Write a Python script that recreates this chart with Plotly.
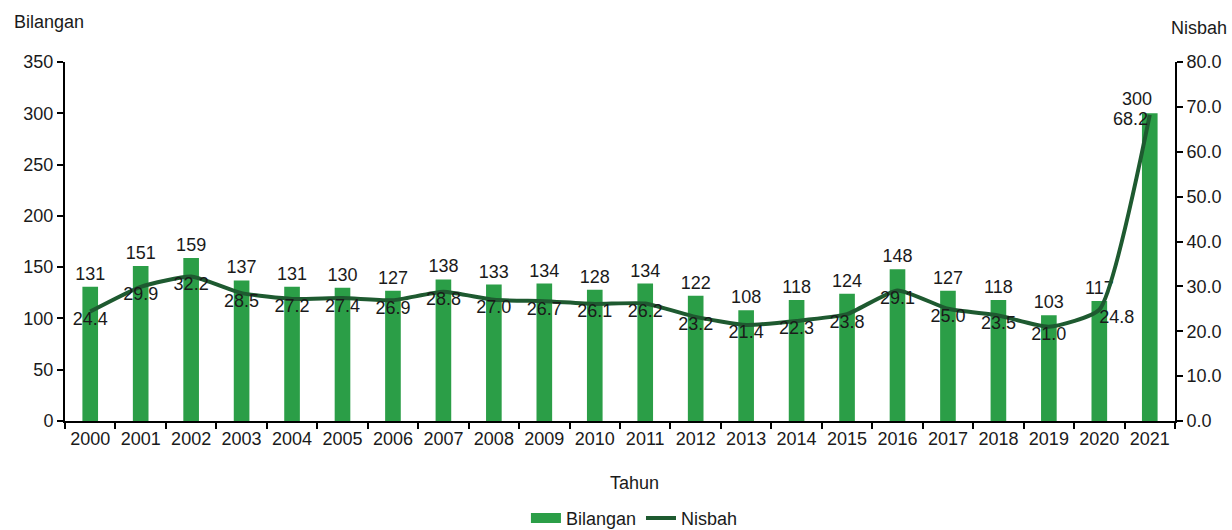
import plotly.graph_objects as go

# Annual data
tahun = [str(y) for y in range(2000, 2022)]
bilangan = [131, 151, 159, 137, 131, 130, 127, 138, 133, 134, 128, 134,
            122, 108, 118, 124, 148, 127, 118, 103, 117, 300]
nisbah = [24.4, 29.9, 32.2, 28.5, 27.2, 27.4, 26.9, 28.8, 27.0, 26.7, 26.1, 26.2,
          23.2, 21.4, 22.3, 23.8, 29.1, 25.0, 23.5, 21.0, 24.8, 68.2]

BAR_COLOR = "#2b9e47"
LINE_COLOR = "#1e5a30"
FONT = "Liberation Sans, Arial, sans-serif"
FS = 18
TXT = "#1a1a1a"

# Last point's labels are placed as annotations so they don't collide
bar_text = [str(v) for v in bilangan[:-1]] + [""]
line_text = [f"{v:.1f}" for v in nisbah[:-1]] + [""]
line_pos = ["bottom center"] * len(nisbah)
line_pos[-2] = "bottom right"
last = len(tahun) - 1  # category index of the final year

fig = go.Figure()
fig.add_trace(go.Bar(
    x=tahun, y=bilangan, name="Bilangan", showlegend=False,
    marker=dict(color=BAR_COLOR, line=dict(width=0)),
    width=0.31,
    text=bar_text, textposition="outside",
    constraintext="none",
    textfont=dict(family=FONT, size=FS, color=TXT),
    cliponaxis=False,
))
fig.add_trace(go.Scatter(
    x=tahun, y=nisbah, name="Nisbah", yaxis="y2", showlegend=False,
    mode="lines+text",
    line=dict(color=LINE_COLOR, width=4, shape="spline", smoothing=0.5),
    text=line_text, textposition=line_pos,
    textfont=dict(family=FONT, size=FS, color=TXT),
    cliponaxis=False,
))
# Legend entries: wide bar swatch and line
fig.add_trace(go.Scatter(
    x=[tahun[0]], y=[None], name="Bilangan", mode="lines",
    line=dict(color=BAR_COLOR, width=11),
))
fig.add_trace(go.Scatter(
    x=[tahun[0]], y=[None], name="Nisbah", mode="lines", yaxis="y2",
    line=dict(color=LINE_COLOR, width=4),
))

fig.update_layout(
    width=1232, height=530,
    margin=dict(l=65, r=57, t=62, b=109, autoexpand=False),
    paper_bgcolor="white", plot_bgcolor="white",
    font=dict(family=FONT, size=FS, color=TXT),
    bargap=0.69,
    showlegend=True,
    legend=dict(orientation="h", x=0.513, xanchor="center",
                yref="container", y=0.022, yanchor="middle",
                font=dict(family=FONT, size=FS), itemwidth=30, tracegroupgap=0,
                bgcolor="rgba(0,0,0,0)"),
    xaxis=dict(
        type="category", range=[-0.5, len(tahun) - 0.5],
        showline=True, linecolor="black", linewidth=2,
        ticks="outside", ticklen=6, tickcolor="black", tickwidth=2,
        tickson="boundaries", showgrid=False, tickangle=0, automargin=False,
        tickfont=dict(family=FONT, size=FS),
    ),
    yaxis=dict(
        range=[0, 350], dtick=50, showline=True, linecolor="black", linewidth=2,
        ticks="outside", ticklen=6, tickcolor="black", tickwidth=2,
        showgrid=False, zeroline=False, automargin=False,
        tickfont=dict(family=FONT, size=FS),
    ),
    yaxis2=dict(
        range=[0, 80], dtick=10, tickformat=".1f", overlaying="y", side="right",
        showline=True, linecolor="black", linewidth=2,
        ticks="outside", ticklen=6, tickcolor="black", tickwidth=2,
        showgrid=False, zeroline=False, automargin=False,
        tickfont=dict(family=FONT, size=FS),
    ),
    annotations=[
        dict(text="Bilangan", xref="paper", yref="paper", x=-0.048, y=1.0,
             xanchor="left", yanchor="middle", yshift=40, showarrow=False,
             font=dict(family=FONT, size=FS)),
        dict(text="Nisbah", xref="paper", yref="paper", x=1.0, y=1.0,
             xanchor="left", yanchor="middle", xshift=-6, yshift=34, showarrow=False,
             font=dict(family=FONT, size=FS)),
        dict(text="Tahun", xref="paper", yref="paper", x=0.513, y=0.0,
             xanchor="center", yanchor="middle", yshift=-62, showarrow=False,
             font=dict(family=FONT, size=FS)),
        dict(text=str(bilangan[-1]), xref="x", yref="y", x=last, y=bilangan[-1],
             xanchor="center", yanchor="bottom", xshift=-13, yshift=2,
             showarrow=False, font=dict(family=FONT, size=FS, color=TXT)),
        dict(text=f"{nisbah[-1]:.1f}", xref="x", yref="y2", x=last, y=nisbah[-1],
             xanchor="right", yanchor="middle", xshift=0, yshift=-4,
             showarrow=False, font=dict(family=FONT, size=FS, color=TXT)),
    ],
)

fig.write_html("out.html")
